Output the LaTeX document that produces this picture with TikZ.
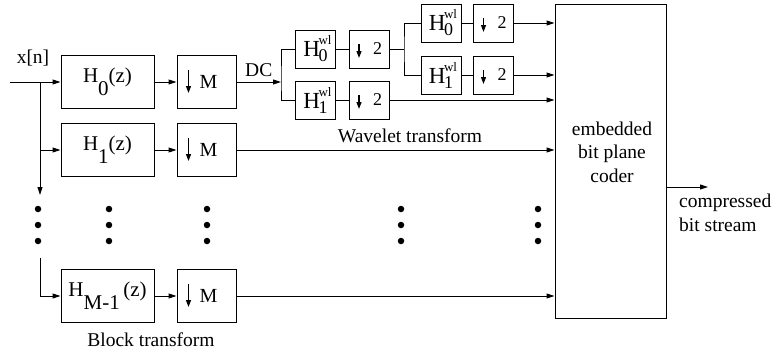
\documentclass[tikz,border=0pt]{standalone}
\usepackage{fontspec}
\setmainfont{Liberation Serif}
\usetikzlibrary{arrows.meta,positioning}
\newcommand{\lowsub}[1]{\raisebox{-13pt}{#1}}
\newcommand{\Hwl}[1]{{\fontsize{23}{25}\selectfont H}\kern-1.5pt\makebox[0pt][l]{\raisebox{12pt}{\fontsize{13}{13}\selectfont wl}}\raisebox{-5pt}{\fontsize{18}{18}\selectfont #1}}
\tikzset{
 block/.style={draw, line width=1pt, minimum width=93pt, minimum height=53pt, inner sep=0pt, font=\fontsize{21}{24}\selectfont},
 downblock/.style={block, minimum width=59pt, font=\fontsize{20}{23}\selectfont},
 wlblock/.style={draw, line width=1pt, minimum width=40pt, minimum height=38pt, inner sep=0pt, font=\fontsize{18}{20}\selectfont},
 coderbox/.style={draw, line width=1pt, minimum width=111pt, minimum height=314pt, inner sep=0pt},
 txt/.style={font=\fontsize{19.5}{23.5}\selectfont, inner sep=0pt, align=center},
 arrow/.style={-{Triangle[length=8pt,width=5pt]}, line width=1pt},
 downtick/.style={-{Triangle[length=7pt,width=5pt]}, line width=1.2pt},
 line/.style={line width=1pt},
 bigdot/.style={circle, fill, inner sep=0pt, minimum size=6.5pt}
}

\begin{document}
\begin{tikzpicture}[x=1pt,y=-1pt]
\useasboundingbox (0,0) rectangle (774,354);
% block transform
\node[block] (H0) at (107.5,82) {H\lowsub{0}(z)};
\node[downblock] (M0) at (206.5,82) {\hspace{4pt}M};
\node[block] (H1) at (107.5,150) {H\lowsub{1}(z)};
\node[downblock] (M1) at (206.5,150) {\hspace{4pt}M};
\node[block] (HM) at (107.5,296) {H\lowsub{M-1}\,(z)};
\node[downblock] (MM) at (206.5,296) {\hspace{4pt}M};
\node[txt] (blocklabel) at (151,340) {Block transform};
% wavelet transform
\node[wlblock] (W0) at (315.5,49) {\Hwl{0}};
\node[wlblock] (D0) at (369,49) {\hspace{17pt}2};
\node[wlblock] (W1) at (315.5,100) {\Hwl{1}};
\node[wlblock] (D1) at (369,100) {\hspace{17pt}2};
\node[wlblock] (W00) at (441,23) {\Hwl{0}};
\node[wlblock] (D00) at (493.5,23) {\hspace{17pt}2};
\node[wlblock] (W01) at (441,75) {\Hwl{1}};
\node[wlblock] (D01) at (493.5,75) {\hspace{17pt}2};
\node[txt] (wllabel) at (410,136) {Wavelet transform};
% down arrows in the decimators
\foreach \b in {M0,M1,MM}
  \draw[downtick] ([xshift=-18pt,yshift=12pt]\b.center) -- ([xshift=-18pt,yshift=-11pt]\b.center);
\foreach \b in {D0,D1,D00,D01}
  \draw[downtick] ([xshift=-10pt,yshift=5pt]\b.center) -- ([xshift=-10pt,yshift=-9pt]\b.center);
% coder
\node[coderbox] (coder) at (610.5,161) {};
\node[txt] (codertxt) at (612,152) {embedded\\bit plane\\coder};
\node[txt, align=left, anchor=north west] (outlabel) at (679,194) {compressed\\bit stream};
% input
\coordinate (xin) at (10,82);
\coordinate (j0) at (40,82);
\coordinate (j1) at (40,150);
\coordinate (jd) at (40,195);
\coordinate (jt) at (40,258);
\coordinate (s0) at (281,82);
\coordinate (s1) at (404,49);
\coordinate (out) at (708,187);
\node[txt] (xn) at (33,58) {x[n]};
\draw[arrow] (xin) -- (H0);
\draw[arrow] (j0) -- (jd);
\draw[arrow] (j1) -- (H1);
\draw[arrow] (jt) |- (HM);
\draw[arrow] (H0) -- (M0);
\draw[arrow] (H1) -- (M1);
\draw[arrow] (HM) -- (MM);
\draw[arrow] (M0) -- node[txt, above=5pt] (dc) {DC} (s0);
\draw[line] (W0) -| (s0) |- (W1);
\draw[line] (W0) -- (D0);
\draw[line] (W1) -- (D1);
\draw[line] (D0) -- (s1);
\draw[line] (W00) -| (s1) |- (W01);
\draw[line] (W00) -- (D00);
\draw[line] (W01) -- (D01);
\draw[arrow] (D00) -- (D00 -| coder.west);
\draw[arrow] (D01) -- (D01 -| coder.west);
\draw[arrow] (D1) -- (D1 -| coder.west);
\draw[arrow] (M1) -- (M1 -| coder.west);
\draw[arrow] (MM) -- (MM -| coder.west);
\draw[arrow] (coder.east |- out) -- (out);
% dots
\foreach \x in {38,109,207,401,538}
  \foreach \y in {209,225,241}
    \node[bigdot] (dot-\x-\y) at (\x,\y) {};
\end{tikzpicture}
\end{document}
